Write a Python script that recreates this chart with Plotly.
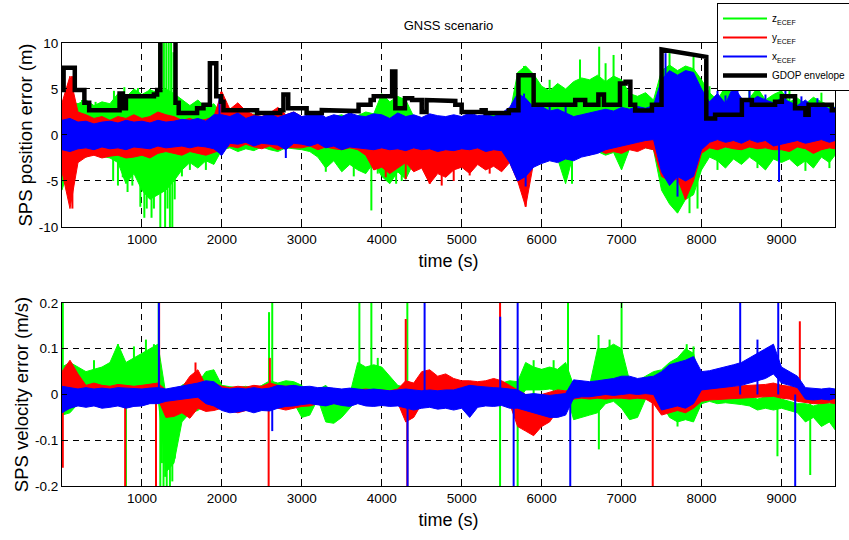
import plotly.graph_objects as go

# ---------------------------------------------------------------------------
# Time base (s): envelope samples every 100 s
TIME = list(range(0, 9601, 100)) + [9670]

# ---------------- SPS position error (m) : noise envelopes ------------------
POS_Z_HI = [3.0, 3.6, 3.4, 3.8, 3.2, 3.6, 3.4, 4.5, 4.1, 5.0,
            4.4, 4.9, 4.6, 5.0, 4.5, 3.8, 3.2, 3.8, 3.0, 3.4,
            2.2, 1.8, 2.1, 1.6, 2.3, 1.9, 2.0, 2.4, 1.8, 2.2,
            1.9, 2.1, 2.2, 1.8, 2.0, 2.2, 1.7, 2.1, 2.5, 2.3,
            4.5, 3.6, 4.2, 3.8, 2.0, 1.4, 1.6, 1.2, 1.5, 1.3,
            1.8, 2.2, 1.6, 2.0, 2.3, 1.8, 2.2, 6.8, 7.5, 6.6,
            5.3, 4.8, 5.6, 5.0, 5.8, 6.2, 6.0, 6.5, 5.8, 6.4,
            6.0, 4.5, 4.2, 4.6, 3.8, 7.0, 7.6, 7.0, 7.5, 7.2,
            6.0, 4.6, 3.8, 5.3, 4.3, 3.6, 4.0, 5.1, 3.8, 4.4,
            4.8, 3.6, 4.0, 3.4, 4.1, 3.6, 3.2, 3.0]
POS_Z_LO = [-6.0, -3.0, -2.2, -2.4, -2.0, -2.3, -2.5, -3.0, -5.3, -4.2,
            -6.0, -7.0, -6.5, -6.0, -5.0, -3.8, -3.0, -3.6, -2.8, -3.2,
            -1.6, -1.4, -1.8, -1.5, -1.7, -1.3, -1.6, -1.8, -1.4, -1.5,
            -1.6, -1.8, -2.4, -3.6, -2.8, -4.0, -3.2, -3.8, -4.2, -3.0,
            -4.5, -5.3, -4.0, -4.8, -3.0, -2.2, -2.0, -2.4, -2.0, -2.2,
            -2.0, -1.8, -2.2, -1.9, -2.0, -1.8, -2.3, -3.0, -4.0, -3.2,
            -2.4, -2.0, -2.6, -5.3, -2.0, -1.6, -2.0, -1.8, -2.2, -1.9,
            -3.8, -1.5, -1.2, -1.4, -1.6, -6.0, -7.5, -8.5, -7.0, -6.5,
            -3.8, -2.4, -2.8, -3.6, -2.6, -3.2, -2.4, -3.0, -3.8, -2.6,
            -3.0, -2.6, -3.4, -2.8, -3.6, -2.4, -3.0, -2.2]

POS_Y_HI = [3.5, 6.4, 2.5, 2.2, 1.8, 2.0, 1.6, 2.0, 1.8, 2.2,
            1.8, 2.0, 2.5, 2.2, 2.0, 1.6, 1.8, 1.5, 1.7, 2.0,
            4.7, 2.8, 3.5, 2.6, 2.2, 2.0, 2.4, 3.0, 2.2, 2.5,
            2.0, 1.8, 1.8, 1.6, 1.8, 1.5, 1.7, 1.8, 1.6, 1.8,
            1.6, 1.8, 1.7, 1.5, 1.8, 1.6, 1.4, 1.6, 1.8, 1.5,
            1.6, 1.4, 1.8, 1.5, 1.6, 1.7, 2.0, 3.5, 3.0, 2.4,
            2.0, 1.8, 2.2, 2.0, 1.5, 1.6, 1.4, 1.8, 1.5, 1.7,
            1.6, 1.8, 2.0, 2.2, 2.4, 4.0, 4.5, 4.8, 4.0, 4.2,
            2.5, 2.0, 2.4, 2.2, 2.6, 2.2, 2.4, 2.0, 2.3, 2.5,
            2.4, 2.2, 2.6, 2.0, 2.3, 2.5, 2.2, 2.0]
POS_Y_LO = [-4.0, -8.0, -3.0, -2.4, -2.2, -2.5, -2.3, -2.2, -2.5, -2.4,
            -2.2, -2.5, -2.0, -1.8, -2.0, -2.2, -1.8, -2.0, -2.2, -1.9,
            -1.6, -1.2, -1.4, -1.0, -1.3, -1.5, -1.2, -1.6, -1.3, -1.4,
            -1.4, -1.2, -1.6, -1.3, -1.5, -1.6, -1.4, -1.6, -2.2, -3.8,
            -3.5, -4.2, -3.6, -3.0, -4.0, -3.6, -5.3, -4.2, -4.6, -3.8,
            -3.5, -4.2, -3.2, -3.8, -3.4, -4.0, -3.0, -5.0, -7.8, -3.0,
            -2.4, -2.0, -2.2, -2.4, -2.2, -1.8, -2.2, -1.6, -2.0, -1.8,
            -2.0, -1.6, -1.8, -1.4, -1.6, -4.5, -5.0, -4.8, -7.0, -5.0,
            -2.0, -1.4, -1.6, -1.3, -1.5, -1.6, -1.3, -1.5, -1.4, -1.6,
            -1.6, -1.8, -1.3, -1.5, -2.0, -1.6, -1.4, -1.5]

POS_X_HI = [1.6, 1.8, 1.4, 1.5, 1.2, 1.4, 1.5, 1.3, 1.6, 1.4,
            1.5, 1.3, 1.6, 1.4, 1.5, 1.7, 1.6, 1.8, 1.5, 2.2,
            2.2, 2.0, 2.4, 1.8, 2.1, 2.0, 2.3, 1.9, 2.2, 2.5,
            2.0, 2.2, 2.5, 1.9, 2.2, 2.0, 2.4, 2.1, 2.0, 2.3,
            2.2, 1.8, 2.4, 2.0, 2.2, 1.9, 2.3, 2.1, 2.0, 2.2,
            2.0, 2.4, 2.1, 2.2, 2.0, 2.4, 3.0, 4.5, 4.0, 3.0,
            3.1, 2.6, 2.8, 2.4, 2.0, 2.2, 2.4, 2.6, 2.8, 2.6,
            3.0, 2.8, 3.1, 2.9, 3.2, 6.0, 7.0, 6.5, 7.0, 6.8,
            5.0, 3.6, 4.5, 3.4, 5.3, 4.0, 3.6, 4.2, 3.8, 3.5,
            4.0, 3.6, 3.2, 3.8, 3.0, 3.4, 2.8, 3.0]
POS_X_LO = [-1.6, -1.8, -1.5, -1.4, -1.6, -1.3, -1.5, -1.4, -1.6, -1.3,
            -1.4, -1.5, -1.2, -1.4, -1.3, -1.2, -1.4, -1.2, -1.3, -1.5,
            -2.2, -0.9, -1.0, -0.8, -1.2, -0.9, -1.0, -1.1, -1.6, -0.9,
            -1.0, -1.2, -0.9, -1.4, -1.2, -1.6, -1.3, -1.4, -1.5, -1.6,
            -1.4, -1.6, -1.5, -1.7, -1.4, -1.6, -1.5, -1.8, -1.6, -1.7,
            -1.5, -1.6, -1.4, -1.8, -1.6, -1.7, -3.0, -5.0, -4.5, -3.5,
            -3.1, -2.8, -3.0, -2.6, -2.8, -2.4, -2.2, -2.0, -1.6, -1.4,
            -1.2, -1.0, -0.8, -0.6, -0.5, -4.0, -5.5, -4.5, -5.0, -4.5,
            -1.6, -0.8, -0.5, -0.8, -0.6, -0.9, -0.5, -0.8, -0.6, -1.2,
            -1.0, -0.8, -0.6, -0.9, -0.7, -0.5, -0.8, -0.6]

# isolated excursions of the position errors (time s, value m)
POS_Z_SPIKE_T = [60, 250, 420, 640, 650, 700, 760, 780, 820, 880,
                 950, 980, 1030, 1060, 1100, 1120, 1150, 1215, 1230, 1245,
                 1260, 1275, 1290, 1305, 1320, 1335, 1350, 1365, 1380, 1395,
                 1410, 1500, 1600, 1700, 1800, 3300, 3500, 3650, 3870, 3950,
                 4180, 4250, 5780, 5950, 6100, 6250, 6380, 6480, 6720, 6800,
                 6900, 7600, 7850, 7900, 7950, 8100, 8200, 8350, 8600, 8700,
                 9100, 9300, 9500, 9600]
POS_Z_SPIKE_V = [-6.0, 3.8, 3.6, -5.0, 4.8, -5.5, -4.6, 5.2, -6.2, -5.5,
                 5.1, -7.8, -9.0, -8.0, 5.0, -9.0, -8.0, 10.5, -10.5, 10.5,
                 -6.0, 10.5, -10.5, 10.5, -8.0, 10.5, -10.5, 10.5, -10.5, 9.0,
                 -7.0, -4.5, -3.8, -3.4, -3.8, -4.0, -3.5, -4.5, -8.2, -4.2,
                 -5.3, -5.0, 7.5, 5.6, 6.0, 5.2, -5.3, 8.2, 9.6, 7.8,
                 8.7, 8.9, -8.5, 8.5, -8.0, 5.3, -3.8, 5.3, 5.0, -3.6,
                 5.0, -3.9, 4.6, -3.6]
POS_Y_SPIKE_T = [125, 130, 1990, 4050, 4300, 4600, 4750, 4900, 5100, 5350,
                 5800, 7800]
POS_Y_SPIKE_V = [6.4, -8.0, 4.7, -4.6, -4.8, -5.3, -5.5, -5.0, -4.4, -4.2,
                 -7.8, -7.0]
POS_X_SPIKE_T = [1970, 1990, 2800, 5780, 5800, 6100, 6300, 7550, 7700, 8200,
                 8300, 8450, 8600, 8800, 8970, 9050, 9250, 9450]
POS_X_SPIKE_V = [4.2, -2.2, -2.5, 4.5, -5.6, 3.5, 3.4, 8.9, -6.7, 4.8,
                 4.3, 5.3, 5.0, 4.4, -5.1, 4.8, 4.2, 4.0]

# GDOP envelope: level changes (time s, level m)
GDOP_T = [0, 20, 160, 280, 340, 720, 760, 800, 1150, 1190,
          1230, 1420, 1460, 1690, 1770, 1850, 1930, 1990, 2020, 2440,
          2730, 2770, 2830, 3060, 3250, 3500, 3710, 3860, 3900, 4130,
          4170, 4290, 4380, 4500, 4560, 4730, 4920, 5000, 5250, 5300,
          5590, 5710, 5900, 6420, 6545, 6710, 6780, 6980, 7050, 7110,
          7170, 7380, 7500, 8060, 8170, 8505, 8630, 8920, 9005, 9170,
          9300, 9340, 9630, 9670]
GDOP_V = [4.9, 7.3, 4.9, 3.5, 2.7, 4.5, 2.9, 4.2, 4.4, 4.9,
          12.0, 3.5, 2.4, 2.9, 3.3, 7.8, 4.2, 3.6, 2.7, 2.4,
          2.7, 4.4, 2.9, 2.4, 2.7, 2.6, 3.3, 3.8, 4.2, 6.9,
          2.9, 4.0, 3.8, 2.5, 3.8, 3.7, 3.3, 2.5, 2.7, 2.4,
          2.7, 6.5, 3.3, 3.8, 3.3, 4.4, 3.3, 5.6, 5.8, 3.3,
          2.65, 3.3, 9.3, 1.8, 2.2, 3.8, 3.3, 3.6, 4.2, 2.9,
          2.2, 3.3, 2.7, 2.7]
# intervals whose level drifts: start time -> level at the end of the interval
GDOP_DRIFT = {7500: 8.5}

# ---------------- SPS velocity error (m/s) : noise envelopes ----------------
VEL_Z_HI = [0.06, 0.07, 0.06, 0.05, 0.055, 0.06, 0.07, 0.11, 0.07, 0.08,
            0.09, 0.10, 0.11, 0.0, 0.0, 0.02, 0.03, 0.025, 0.05, 0.054,
            0.02, 0.017, 0.015, 0.018, 0.012, 0.02, 0.03, 0.025, 0.03, 0.028,
            0.02, 0.0, 0.01, 0.02, 0.0, -0.005, 0.0, 0.07, 0.06, 0.065,
            0.06, 0.04, 0.02, 0.015, 0.01, 0.01, 0.012, 0.015, 0.01, 0.012,
            0.015, 0.017, 0.015, 0.018, 0.02, 0.025, 0.03, 0.028, 0.07, 0.06,
            0.055, 0.06, 0.055, 0.07, 0.02, 0.01, 0.02, 0.10, 0.10, 0.11,
            0.10, 0.03, 0.03, 0.04, 0.05, 0.054, 0.07, 0.08, 0.10, 0.09,
            0.02, 0.0, 0.0, -0.005, 0.0, 0.0, -0.005, -0.01, -0.005, 0.0,
            -0.01, -0.015, -0.02, -0.02, -0.025, -0.02, -0.02, -0.015]
VEL_Z_LO = [-0.045, -0.04, -0.02, -0.015, -0.01, -0.015, -0.012, -0.02, -0.015, -0.01,
            -0.01, -0.005, -0.005, -0.17, -0.15, -0.06, -0.04, -0.035, -0.02, -0.025,
            -0.015, -0.02, -0.015, -0.02, -0.018, -0.015, -0.01, -0.02, -0.015, -0.018,
            -0.05, -0.045, -0.01, -0.06, -0.063, -0.05, -0.03, -0.01, -0.012, -0.008,
            -0.005, -0.008, -0.01, -0.05, -0.045, -0.02, -0.02, -0.015, -0.02, -0.018,
            -0.015, -0.02, -0.018, -0.02, -0.015, -0.02, -0.02, -0.015, 0.01, 0.01,
            0.01, 0.012, 0.01, 0.01, -0.055, -0.05, -0.045, -0.04, -0.02, -0.015,
            -0.03, -0.055, -0.05, -0.01, -0.005, -0.02, -0.05, -0.06, -0.055, -0.06,
            -0.02, -0.015, -0.02, -0.018, -0.02, -0.022, -0.025, -0.034, -0.03, -0.034,
            -0.03, -0.035, -0.04, -0.06, -0.05, -0.07, -0.06, -0.077]

VEL_Y_HI = [0.05, 0.075, 0.045, 0.02, 0.025, 0.02, 0.018, 0.022, 0.02, 0.018,
            0.02, 0.022, 0.025, 0.01, 0.012, 0.015, 0.04, 0.054, 0.02, 0.025,
            0.018, 0.015, 0.018, 0.016, 0.02, 0.018, 0.025, 0.02, 0.018, 0.02,
            0.012, 0.01, 0.008, 0.01, 0.012, 0.01, 0.008, 0.01, 0.012, 0.01,
            0.01, 0.008, 0.012, 0.03, 0.025, 0.05, 0.054, 0.04, 0.045, 0.035,
            0.03, 0.03, 0.028, 0.03, 0.035, 0.03, 0.02, 0.01, 0.0, -0.005,
            0.0, 0.005, 0.01, 0.008, 0.01, 0.012, 0.01, 0.012, 0.01, 0.012,
            0.01, 0.012, 0.015, 0.018, 0.02, 0.025, 0.022, 0.025, 0.02, 0.018,
            0.015, 0.015, 0.016, 0.018, 0.018, 0.02, 0.02, 0.022, 0.022, 0.025,
            0.02, 0.018, 0.015, 0.012, 0.01, 0.008, 0.008, 0.006]
VEL_Y_LO = [-0.037, -0.03, -0.02, -0.02, -0.018, -0.02, -0.02, -0.02, -0.018, -0.02,
            -0.015, -0.015, -0.01, -0.05, -0.048, -0.04, -0.052, -0.03, -0.037, -0.035,
            -0.03, -0.035, -0.04, -0.035, -0.03, -0.032, -0.025, -0.03, -0.034, -0.03,
            -0.026, -0.025, -0.02, -0.022, -0.02, -0.018, -0.02, -0.015, -0.018, -0.015,
            -0.015, -0.02, -0.018, -0.06, -0.05, -0.02, -0.025, -0.02, -0.022, -0.02,
            -0.025, -0.02, -0.018, -0.02, -0.015, -0.018, -0.02, -0.07, -0.08, -0.09,
            -0.07, -0.06, -0.035, -0.03, -0.01, -0.008, -0.01, -0.008, -0.01, -0.008,
            -0.008, -0.01, -0.008, -0.01, -0.02, -0.045, -0.04, -0.035, -0.04, -0.03,
            -0.015, -0.012, -0.01, -0.01, -0.008, -0.008, -0.006, -0.005, -0.005, -0.004,
            -0.008, -0.01, -0.015, -0.018, -0.02, -0.02, -0.018, -0.02]

VEL_X_HI = [0.018, 0.015, 0.012, 0.015, 0.012, 0.014, 0.012, 0.015, 0.014, 0.012,
            0.012, 0.014, 0.015, 0.012, 0.015, 0.018, 0.022, 0.025, 0.03, 0.028,
            0.014, 0.012, 0.014, 0.012, 0.015, 0.012, 0.014, 0.02, 0.018, 0.02,
            0.017, 0.018, 0.015, 0.016, 0.014, 0.012, 0.014, 0.012, 0.01, 0.012,
            0.01, 0.008, 0.01, 0.012, 0.01, 0.008, 0.01, 0.008, 0.01, 0.01,
            0.015, 0.02, 0.018, 0.016, 0.015, 0.014, 0.012, 0.01, 0.0, 0.002,
            0.0, -0.002, 0.0, 0.002, 0.032, 0.03, 0.028, 0.03, 0.032, 0.035,
            0.04, 0.04, 0.035, 0.038, 0.04, 0.05, 0.065, 0.07, 0.075, 0.083,
            0.05, 0.052, 0.056, 0.06, 0.065, 0.07, 0.08, 0.09, 0.10, 0.11,
            0.06, 0.05, 0.04, 0.015, 0.014, 0.012, 0.014, 0.012]
VEL_X_LO = [-0.04, -0.03, -0.025, -0.028, -0.025, -0.03, -0.028, -0.025, -0.03, -0.026,
            -0.025, -0.02, -0.02, -0.015, -0.012, -0.01, -0.008, -0.006, -0.02, -0.025,
            -0.035, -0.04, -0.038, -0.035, -0.04, -0.035, -0.036, -0.03, -0.026, -0.025,
            -0.022, -0.02, -0.022, -0.025, -0.02, -0.024, -0.026, -0.02, -0.025, -0.026,
            -0.024, -0.026, -0.025, -0.03, -0.034, -0.03, -0.028, -0.032, -0.03, -0.034,
            -0.03, -0.05, -0.028, -0.025, -0.026, -0.024, -0.03, -0.03, -0.035, -0.04,
            -0.045, -0.05, -0.05, -0.045, -0.008, -0.005, -0.005, -0.003, 0.0, -0.002,
            0.0, 0.002, 0.0, 0.002, 0.0, -0.034, -0.03, -0.025, -0.03, -0.02,
            0.01, 0.012, 0.015, 0.016, 0.018, 0.02, 0.025, 0.03, 0.035, 0.045,
            0.025, 0.02, 0.015, -0.01, -0.012, -0.01, -0.012, -0.008]

VEL_Z_SPIKE_T = [10, 400, 700, 800, 900, 1050, 1150, 1210, 1230, 1250,
                 1270, 1290, 1310, 1330, 1350, 1380, 1410, 2590, 2630, 3720,
                 3870, 3950, 4320, 5480, 5700, 5900, 6150, 6330, 6712, 6716,
                 6850, 7000, 7700, 7815, 7900, 8950, 9360]
VEL_Z_SPIKE_V = [0.21, 0.075, 0.11, -0.21, 0.105, 0.12, 0.11, 0.21, -0.21, -0.15,
                 -0.21, -0.18, -0.21, -0.12, -0.21, -0.19, -0.14, 0.18, 0.21, 0.21,
                 0.21, 0.08, 0.21, -0.21, -0.21, 0.075, 0.075, 0.21, 0.13, -0.12,
                 0.12, 0.21, -0.07, 0.11, 0.105, -0.135, -0.176]
VEL_Y_SPIKE_T = [10, 790, 1176, 1215, 1670, 2585, 2600, 4300, 4320, 5480, 7390, 9230]
VEL_Y_SPIKE_V = [-0.16, -0.21, -0.21, 0.21, 0.07, -0.21, 0.08, 0.165, -0.21, 0.21, -0.21, 0.16]
VEL_X_SPIKE_T = [1212, 2630, 4323, 4536, 5482, 5650, 5700, 6358, 8484, 8700, 8960, 9172]
VEL_X_SPIKE_V = [0.21, -0.08, -0.21, 0.21, 0.17, -0.21, 0.21, -0.21, 0.21, 0.12, 0.21, -0.21]

# axis ticks
TIME_TICKS = [1000, 2000, 3000, 4000, 5000, 6000, 7000, 8000, 9000]
POS_TICKS = [-10, -5, 0, 5, 10]
POS_TICK_TEXT = ["-10", "-5", "0", "5", "10"]
VEL_TICKS = [-0.2, -0.1, 0, 0.1, 0.2]
VEL_TICK_TEXT = ["-0.2", "-0.1", "0", "0.1", "0.2"]

GREEN, RED, BLUE, BLACK = "#00ff00", "#ff0000", "#0000ff", "#000000"
FONT = "Liberation Sans, Arial, sans-serif"


def band(lo, hi, color, xa, ya):
    return go.Scatter(x=TIME + TIME[::-1], y=hi + lo[::-1], mode="lines",
                      fill="toself", fillcolor=color,
                      line=dict(color=color, width=1),
                      showlegend=False, hoverinfo="skip", xaxis=xa, yaxis=ya)


def spikes(ts, vs, color, xa, ya, name=None):
    xs, ys = [], []
    for t, v in zip(ts, vs):
        xs += [t, t, None]
        ys += [0, v, None]
    return go.Scatter(x=xs, y=ys, mode="lines", line=dict(color=color, width=2),
                      name=name, showlegend=name is not None,
                      hoverinfo="skip", xaxis=xa, yaxis=ya)


fig = go.Figure()

# position errors (top panel)
fig.add_trace(band(POS_Z_LO, POS_Z_HI, GREEN, "x", "y"))
fig.add_trace(spikes(POS_Z_SPIKE_T, POS_Z_SPIKE_V, GREEN, "x", "y", "z<sub>ECEF</sub>"))
fig.add_trace(band(POS_Y_LO, POS_Y_HI, RED, "x", "y"))
fig.add_trace(spikes(POS_Y_SPIKE_T, POS_Y_SPIKE_V, RED, "x", "y", "y<sub>ECEF</sub>"))
fig.add_trace(band(POS_X_LO, POS_X_HI, BLUE, "x", "y"))
fig.add_trace(spikes(POS_X_SPIKE_T, POS_X_SPIKE_V, BLUE, "x", "y", "x<sub>ECEF</sub>"))

gx, gy = [], []
for i in range(len(GDOP_T) - 1):
    gx += [GDOP_T[i], GDOP_T[i + 1]]
    gy += [GDOP_V[i], GDOP_DRIFT.get(GDOP_T[i], GDOP_V[i])]
fig.add_trace(go.Scatter(x=gx, y=gy, mode="lines", name="GDOP envelope",
                         line=dict(color=BLACK, width=4.5), hoverinfo="skip",
                         xaxis="x", yaxis="y"))

# velocity errors (bottom panel)
fig.add_trace(band(VEL_Z_LO, VEL_Z_HI, GREEN, "x2", "y2"))
fig.add_trace(spikes(VEL_Z_SPIKE_T, VEL_Z_SPIKE_V, GREEN, "x2", "y2"))
fig.add_trace(band(VEL_Y_LO, VEL_Y_HI, RED, "x2", "y2"))
fig.add_trace(spikes(VEL_Y_SPIKE_T, VEL_Y_SPIKE_V, RED, "x2", "y2"))
fig.add_trace(band(VEL_X_LO, VEL_X_HI, BLUE, "x2", "y2"))
fig.add_trace(spikes(VEL_X_SPIKE_T, VEL_X_SPIKE_V, BLUE, "x2", "y2"))

axis_common = dict(showline=True, linecolor=BLACK, linewidth=1, mirror="ticks",
                   ticks="inside", ticklen=5, tickcolor=BLACK,
                   showgrid=True, gridcolor=BLACK, gridwidth=1, griddash="6px,5px",
                   zeroline=False, tickfont=dict(size=13.5, color=BLACK, family=FONT))

xaxis_common = dict(axis_common, range=[0, 9670], tickvals=TIME_TICKS,
                    title=dict(text="time (s)", font=dict(size=18, color=BLACK, family=FONT),
                               standoff=8))

fig.update_layout(
    width=849, height=540,
    margin=dict(l=62, r=14, t=43, b=54, autoexpand=False),
    paper_bgcolor="white", plot_bgcolor="white",
    font=dict(family=FONT, color=BLACK),
    title=dict(text="GNSS scenario", x=0.5, xref="paper", xanchor="center",
               y=1 - 25 / 540, yref="container", yanchor="middle",
               font=dict(size=13, color=BLACK, family=FONT)),
    xaxis=dict(xaxis_common, domain=[0, 1], anchor="y"),
    yaxis=dict(axis_common, domain=[0.5847, 1], anchor="x", range=[-10, 10],
               tickvals=POS_TICKS, ticktext=POS_TICK_TEXT,
               title=dict(text="SPS position error (m)",
                          font=dict(size=18.5, color=BLACK, family=FONT), standoff=1)),
    xaxis2=dict(xaxis_common, domain=[0, 1], anchor="y2"),
    yaxis2=dict(axis_common, domain=[0, 0.4131], anchor="x2", range=[-0.2, 0.2],
                tickvals=VEL_TICKS, ticktext=VEL_TICK_TEXT,
                title=dict(text="SPS velocity error (m/s)",
                           font=dict(size=18.5, color=BLACK, family=FONT), standoff=1)),
    legend=dict(x=(717 - 62) / 773, y=(486 - 3) / 443, xanchor="left", yanchor="top",
                bgcolor="white", bordercolor=BLACK, borderwidth=1, itemwidth=44,
                font=dict(size=10, color=BLACK, family=FONT)),
    showlegend=True,
)

fig.write_html("out.html")
